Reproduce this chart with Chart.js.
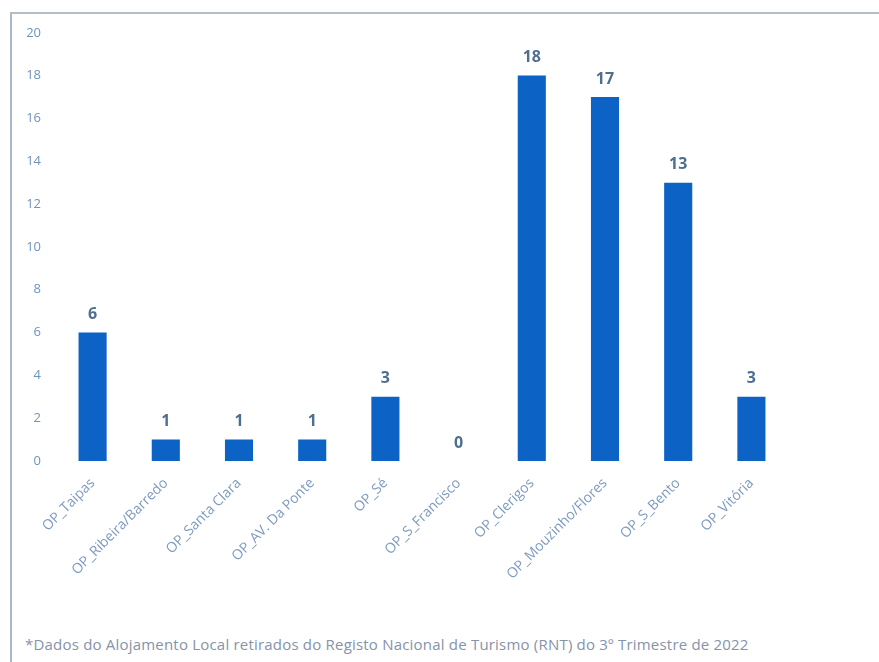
<!DOCTYPE html>
<html lang="pt">
<head>
<meta charset="UTF-8">
<title>Alojamento Local por OP</title>
<script src="https://cdn.jsdelivr.net/npm/chart.js@4.4.0/dist/chart.umd.min.js"></script>
<style>
    html, body { margin: 0; padding: 0; background: #fff; }
    body { width: 879px; height: 662px; position: relative; overflow: hidden; font-family: "Open Sans", Arial, sans-serif; }
    #frame { position: absolute; left: 10px; top: 12px; width: 869px; height: 650px;
             border-left: 2px solid #a9b9cc; border-top: 2px solid #b4bcc6; }
    #chart-box { position: absolute; left: 12px; top: 10px; width: 867px; height: 614px; }
    #note { position: absolute; left: 25px; top: 634px; font-size: 15px; letter-spacing: 0.2px; color: #8593ab; white-space: nowrap; }
</style>
</head>
<body>
<div id="frame"></div>
<div id="chart-box"><canvas id="myChart"></canvas></div>
<div id="note">*Dados do Alojamento Local retirados do Registo Nacional de Turismo (RNT) do 3º Trimestre de 2022</div>

<script>
const categories = ['OP_Taipas', 'OP_Ribeira/Barredo', 'OP_Santa Clara', 'OP_AV. Da Ponte', 'OP_Sé',
    'OP_S_Francisco', 'OP_Clerigos', 'OP_Mouzinho/Flores', 'OP_S_Bento', 'OP_Vitória'];
const counts = [6, 1, 1, 1, 3, 0, 18, 17, 13, 3];
const yTicks = [0, 2, 4, 6, 8, 10, 12, 14, 16, 18, 20];

// value labels above each bar
const barLabels = {
    id: 'barLabels',
    afterDatasetsDraw(chart) {
        const ctx = chart.ctx;
        const meta = chart.getDatasetMeta(0);
        ctx.save();
        ctx.font = 'bold 16px "Open Sans", Arial, sans-serif';
        ctx.fillStyle = '#4f6f91';
        ctx.textAlign = 'center';
        ctx.textBaseline = 'bottom';
        meta.data.forEach((bar, i) => {
            ctx.fillText(String(counts[i]), bar.x, bar.y - 10);
        });
        ctx.restore();
    }
};

new Chart(document.getElementById('myChart'), {
    type: 'bar',
    data: {
        labels: categories,
        datasets: [{
            data: counts,
            backgroundColor: '#0d63c5',
            barPercentage: 0.48,
            categoryPercentage: 0.8
        }]
    },
    options: {
        responsive: true,
        maintainAspectRatio: false,
        animation: false,
        layout: { padding: { top: 10, right: 91, left: 0, bottom: 0 } },
        plugins: { legend: { display: false }, tooltip: { enabled: false } },
        scales: {
            x: {
                grid: { display: false, drawTicks: false },
                border: { display: false },
                ticks: {
                    minRotation: 45, maxRotation: 45, padding: 14,
                    color: '#7e9bc0',
                    font: { size: 14, family: '"Open Sans", Arial, sans-serif' }
                },
                afterFit(scale) { scale.height = 163; }
            },
            y: {
                min: 0, max: 20,
                grid: { display: false, drawTicks: false },
                border: { display: false },
                afterBuildTicks(scale) { scale.ticks = yTicks.map(v => ({ value: v })); },
                ticks: {
                    padding: 15,
                    color: '#6f93bd',
                    font: { size: 13, family: '"Open Sans", Arial, sans-serif' }
                },
                afterFit(scale) { scale.width = 44; }
            }
        }
    },
    plugins: [barLabels]
});
</script>
</body>
</html>
